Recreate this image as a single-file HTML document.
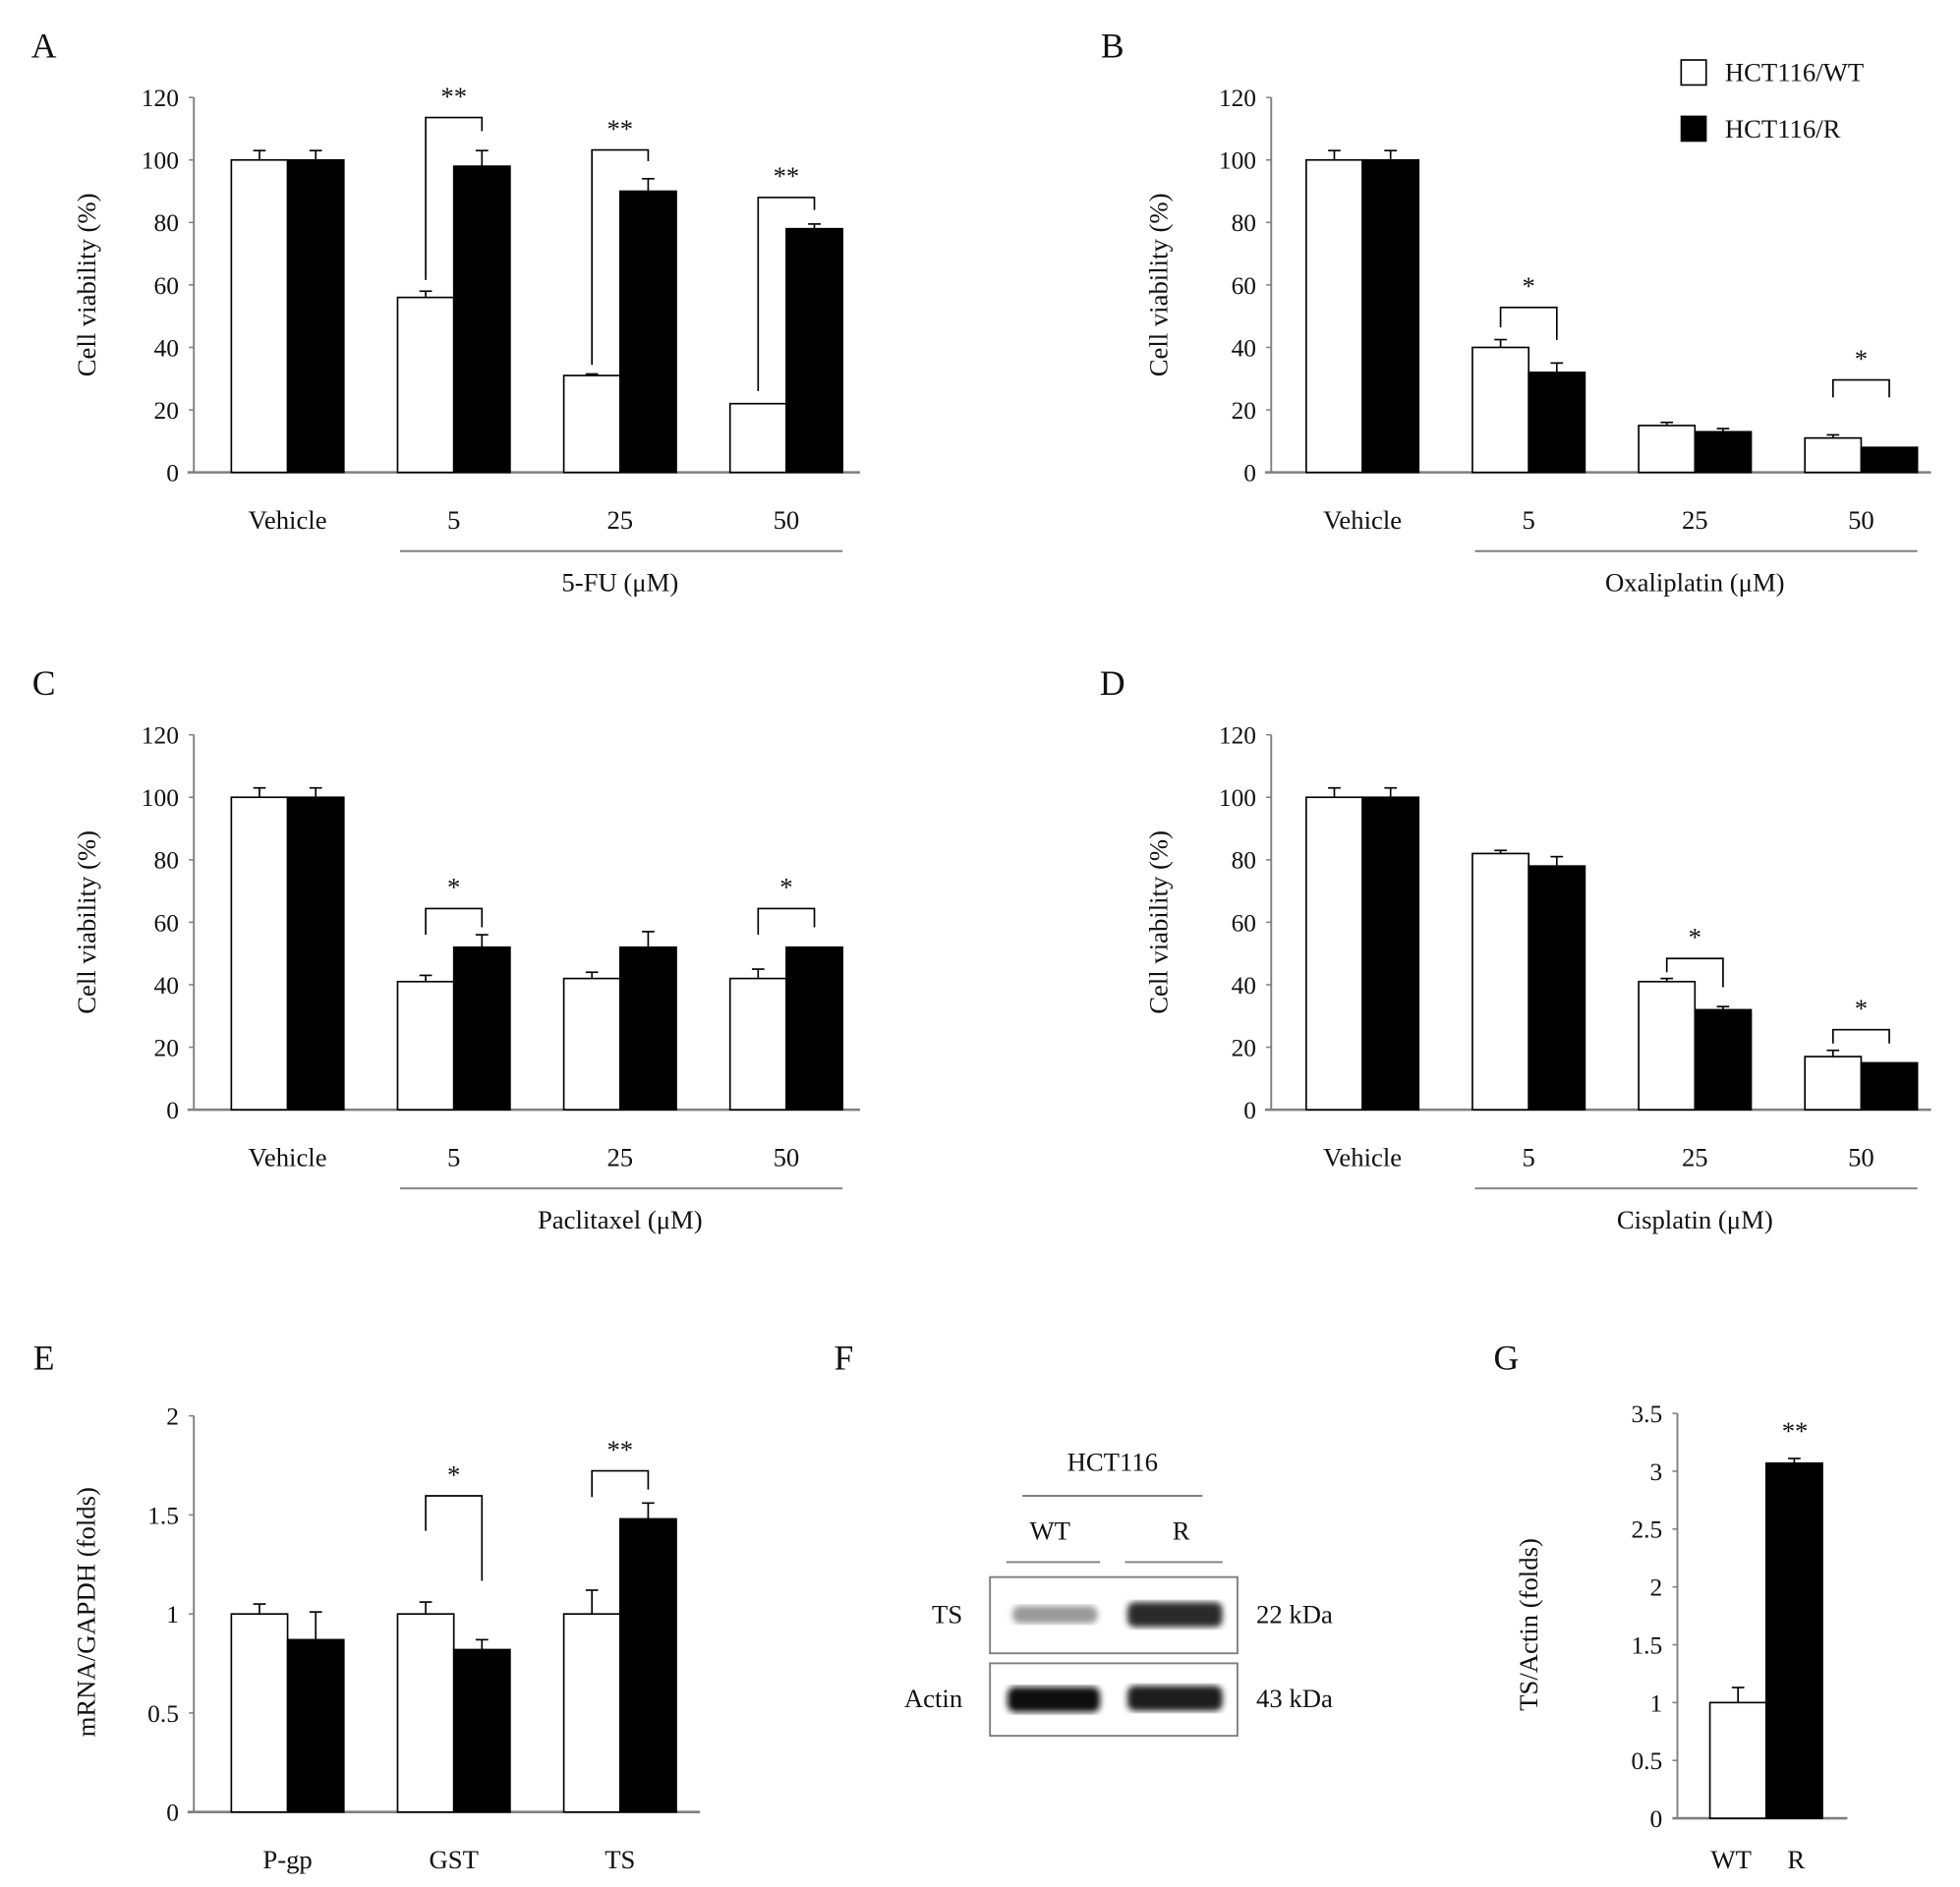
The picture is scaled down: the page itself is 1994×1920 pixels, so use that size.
<!DOCTYPE html>
<html><head><meta charset="utf-8">
<style>
html,body{margin:0;padding:0;background:#fff;}
svg{display:block;}
text{font-family:"Liberation Serif",serif;fill:#111;}
</style></head>
<body>
<svg id="fig" width="1994" height="1920" viewBox="0 0 1568 1510" xmlns="http://www.w3.org/2000/svg"></svg>
<script>
// ---- data ----
const doseCats = ["Vehicle","5","25","50"];
const fuWT = [100,56,31,22];
const fuR = [100,98,90,78];
const fuWTerr = [3,2,0.5,0];
const fuRerr = [3,5,4,1.5];
const oxWT = [100,40,15,11];
const oxR = [100,32,13,8];
const oxWTerr = [3,2.5,1,1];
const oxRerr = [3,3,1,0];
const paWT = [100,41,42,42];
const paR = [100,52,52,52];
const paWTerr = [3,2,2,3];
const paRerr = [3,4,5,0];
const ciWT = [100,82,41,17];
const ciR = [100,78,32,15];
const ciWTerr = [3,1,1,2];
const ciRerr = [3,3,1,0];
const viabTicks = [0,20,40,60,80,100,120];
const geneCats = ["P-gp","GST","TS"];
const mWT = [1,1,1];
const mR = [0.87,0.82,1.48];
const mWTerr = [0.05,0.06,0.12];
const mRerr = [0.14,0.05,0.08];
const mTicks = [0,0.5,1,1.5,2];
const mTickLabels = ["0","0.5","1","1.5","2"];
const gCats = ["WT","R"];
const gVals = [1,3.07];
const gErr = [0.13,0.04];
const gTicks = [0,0.5,1,1.5,2,2.5,3,3.5];

const NS="http://www.w3.org/2000/svg";
const svg=document.getElementById('fig');
function mk(tag,attrs,parent){const e=document.createElementNS(NS,tag);for(const k in attrs)e.setAttribute(k,attrs[k]);(parent||svg).appendChild(e);return e;}
function txt(x,y,s,size,anchor,parent,rot){const t=mk('text',{x:x,y:y,'font-size':size,'text-anchor':anchor||'middle'},parent);if(rot)t.setAttribute('transform',`rotate(-90 ${x} ${y})`);t.textContent=s;return t;}
const AX='#7f7f7f';

function barChart(o){
  const g=mk('g',{});
  
  
  const y=v=>o.y0-(v-o.min)/(o.max-o.min)*(o.y0-o.y1);
  const ya=mk('line',{x1:o.ax,y1:o.y1,x2:o.ax,y2:o.y0,stroke:AX,'stroke-width':1.5},g);
  
  o.ticks.forEach((t,i)=>{
    mk('line',{x1:o.ax-4,y1:y(t),x2:o.ax,y2:y(t),stroke:AX,'stroke-width':1.2},g);
    const tl=txt(o.ax-12,y(t)+7,o.tickLabels?o.tickLabels[i]:String(t),20,'end',g);
    
  });
  const xa=mk('line',{x1:o.ax-5,y1:o.y0,x2:o.xEnd,y2:o.y0,stroke:AX,'stroke-width':2},g);
  
  const yl=txt(o.ylx,o.yly,o.ylabel,21,'middle',g,true);
  
  const cx=i=>o.g0+i*o.step;
  o.cats.forEach((c,i)=>{
    const x=cx(i);
    const series=[[o.wt,o.wterr,'#fff'],[o.r,o.rerr,'#000']];
    series.forEach((s,j)=>{
      const bx=x+j*o.bw, top=y(s[0][i]);
      const b=mk('rect',{x:bx,y:top,width:o.bw,height:o.y0-top,fill:s[2],stroke:'#000','stroke-width':1.3},g);
      
      const e=s[1][i];
      if(e>0){const et=y(s[0][i]+e);const m=bx+o.bw/2;
        mk('line',{x1:m,y1:top,x2:m,y2:et,stroke:'#000','stroke-width':1.3},g);
        mk('line',{x1:m-5,y1:et,x2:m+5,y2:et,stroke:'#000','stroke-width':1.3},g);}
    });
    const cl=txt(x+o.bw,o.y0+45,c,21,'middle',g);
    
  });
  if(o.under){
    const u=mk('line',{x1:cx(1)+2,y1:o.y0+63,x2:cx(o.cats.length-1)+2*o.bw,y2:o.y0+63,stroke:AX,'stroke-width':1.5},g);
    
    const xt=txt((cx(1)+cx(o.cats.length-1)+2*o.bw)/2,o.y0+95,o.under,21,'middle',g);
    
  }
  (o.sig||[]).forEach(sg=>{
    const i=sg[0], top=sg[1];
    const xl=cx(i)+o.bw/2, xr=cx(i)+1.5*o.bw;
    const p=mk('path',{d:`M${xl},${sg[3]} L${xl},${top} L${xr},${top} L${xr},${sg[4]}`,fill:'none',stroke:'#000','stroke-width':1.3},g);
    
    const st=txt((xl+xr)/2,top-10,sg[2],21,'middle',g);
    
  });
  return g;
}
const base={min:0,max:120,ticks:viabTicks,bw:45,step:133,cats:doseCats,ylabel:'Cell viability (%)'};
barChart(Object.assign({},base,{name:'chart-5fu',ax:155,y0:378,y1:78,xEnd:688,g0:185,ylx:76,yly:228,wt:fuWT,r:fuR,wterr:fuWTerr,rerr:fuRerr,under:'5-FU (μM)',sig:[[1,94,'**',224,105],[2,120,'**',292,129],[3,158,'**',313,168]]}));
barChart(Object.assign({},base,{name:'chart-oxaliplatin',ax:1017,y0:378,y1:78,xEnd:1545,g0:1045,ylx:934,yly:228,wt:oxWT,r:oxR,wterr:oxWTerr,rerr:oxRerr,under:'Oxaliplatin (μM)',sig:[[1,246,'*',262,272],[3,304,'*',318,318]]}));
barChart(Object.assign({},base,{name:'chart-paclitaxel',ax:155,y0:888,y1:588,xEnd:688,g0:185,ylx:76,yly:738,wt:paWT,r:paR,wterr:paWTerr,rerr:paRerr,under:'Paclitaxel (μM)',sig:[[1,727,'*',748,742],[3,727,'*',748,742]]}));
barChart(Object.assign({},base,{name:'chart-cisplatin',ax:1017,y0:888,y1:588,xEnd:1545,g0:1045,ylx:934,yly:738,wt:ciWT,r:ciR,wterr:ciWTerr,rerr:ciRerr,under:'Cisplatin (μM)',sig:[[2,767,'*',778,790],[3,824,'*',835,835]]}));
barChart({name:'chart-mrna',min:0,max:2,ticks:mTicks,tickLabels:mTickLabels,bw:45,step:133,cats:geneCats,ylabel:'mRNA/GAPDH (folds)',ax:155,y0:1450,y1:1133,xEnd:560,g0:185,ylx:76,yly:1290,wt:mWT,r:mR,wterr:mWTerr,rerr:mRerr,sig:[[1,1197,'*',1225,1265],[2,1177,'**',1198,1192]]});
// G chart
(function(){
  const g=mk('g',{});
  
  const y0=1455,y1=1131,ax=1342;const y=v=>y0-v/3.5*(y0-y1);
  mk('line',{x1:ax,y1:y1,x2:ax,y2:y0,stroke:AX,'stroke-width':1.5},g);
  gTicks.forEach(t=>{mk('line',{x1:ax-4,y1:y(t),x2:ax,y2:y(t),stroke:AX,'stroke-width':1.2},g);
    const tl=txt(ax-12,y(t)+7,String(t),20,'end',g);});
  mk('line',{x1:ax-4,y1:y0,x2:1478,y2:y0,stroke:AX,'stroke-width':2},g);
  const yl=txt(1230,1300,'TS/Actin (folds)',21,'middle',g,true);
  const bw=45,x0=1368;
  gCats.forEach((c,i)=>{const bx=x0+i*bw,top=y(gVals[i]);
    const b=mk('rect',{x:bx,y:top,width:bw,height:y0-top,fill:i?'#000':'#fff',stroke:'#000','stroke-width':1.3},g);
    
    const et=y(gVals[i]+gErr[i]),m=bx+bw/2;
    mk('line',{x1:m,y1:top,x2:m,y2:et,stroke:'#000','stroke-width':1.3},g);
    mk('line',{x1:m-5,y1:et,x2:m+5,y2:et,stroke:'#000','stroke-width':1.3},g);
    const cl=txt(i?1437:1385,1495,c,21,'middle',g);
  });
  const st=txt(1436,1152,'**',21,'middle',g);
})();
// panel letters
[['A',35,46],['B',890,46],['C',35,556],['D',890,556],['E',35,1096],['F',675,1096],['G',1205,1096]].forEach(p=>{
  const t=txt(p[1],p[2],p[0],28,'middle');});
// legend
(function(){
  const g=mk('g',{});
  const a=mk('rect',{x:1345,y:48,width:20,height:20,fill:'#fff',stroke:'#000','stroke-width':1.3},g);
  
  const at=txt(1380,65,'HCT116/WT',21,'start',g);
  const b=mk('rect',{x:1345,y:93,width:20,height:20,fill:'#000',stroke:'#000'},g);
  
  const bt=txt(1380,110,'HCT116/R',21,'start',g);
})();
// western blot F
(function(){
  const g=mk('g',{});
  mk('defs',{},g).innerHTML='<filter id="bl"><feGaussianBlur stdDeviation="2.5"/></filter>';
  let t=txt(890,1177,'HCT116',21,'middle',g);
  mk('line',{x1:818,y1:1197,x2:962,y2:1197,stroke:AX,'stroke-width':1.5},g);
  t=txt(840,1232,'WT',21,'middle',g);
  t=txt(945,1232,'R',21,'middle',g);
  mk('line',{x1:805,y1:1250,x2:880,y2:1250,stroke:AX,'stroke-width':1.5},g);
  mk('line',{x1:900,y1:1250,x2:978,y2:1250,stroke:AX,'stroke-width':1.5},g);
  let r=mk('rect',{x:792,y:1262,width:198,height:61,fill:'#fff',stroke:AX,'stroke-width':1.5},g);
  r=mk('rect',{x:792,y:1331,width:198,height:58,fill:'#fff',stroke:AX,'stroke-width':1.5},g);
  mk('rect',{x:810,y:1285,width:68,height:14,rx:6,fill:'#9a9a9a',filter:'url(#bl)'},g);
  mk('rect',{x:902,y:1282,width:76,height:20,rx:6,fill:'#2a2a2a',filter:'url(#bl)'},g);
  mk('rect',{x:806,y:1350,width:74,height:20,rx:6,fill:'#111',filter:'url(#bl)'},g);
  mk('rect',{x:902,y:1349,width:76,height:20,rx:6,fill:'#1a1a1a',filter:'url(#bl)'},g);
  t=txt(770,1299,'TS',21,'end',g);
  t=txt(770,1366,'Actin',21,'end',g);
  t=txt(1005,1299,'22 kDa',21,'start',g);
  t=txt(1005,1366,'43 kDa',21,'start',g);
})();
</script>
</body></html>
